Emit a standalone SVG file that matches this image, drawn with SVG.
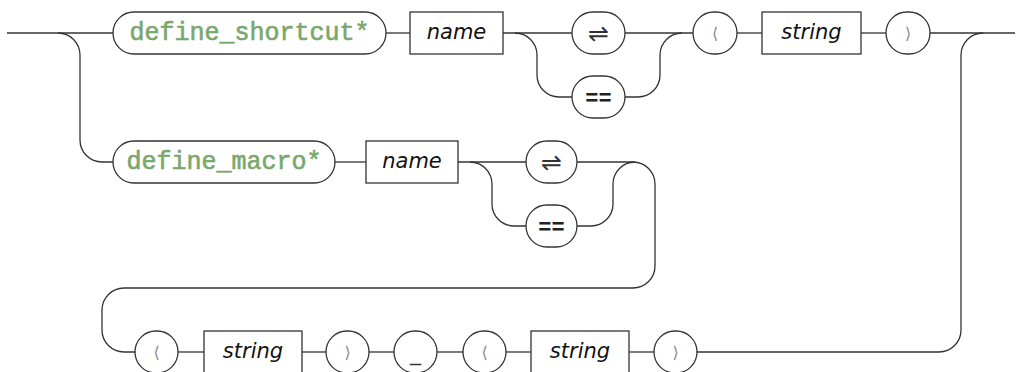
<svg xmlns="http://www.w3.org/2000/svg" width="1022" height="372" viewBox="0 0 1022 372">
  <style>
    .ln { fill: none; stroke: #333; stroke-width: 1.3; }
    .box { fill: #fff; stroke: #333; stroke-width: 1.3; }
    .kw { font-family: "Liberation Mono", monospace; font-size: 25px; fill: #79a86c; stroke: #79a86c; stroke-width: 0.6; text-anchor: middle; }
    .nt { font-family: "DejaVu Sans", sans-serif; font-style: italic; font-size: 21px; fill: #111; text-anchor: middle; }
    .sym { font-family: "DejaVu Sans", sans-serif; font-size: 25px; fill: #333; text-anchor: middle; }
    .eq { font-family: "Liberation Mono", monospace; font-weight: bold; font-size: 22px; fill: #222; text-anchor: middle; }
    .ang { font-family: "DejaVu Sans", sans-serif; font-size: 16px; fill: #888; text-anchor: middle; }
  </style>

  <!-- connectors -->
  <g id="connectors" class="ln">
    <!-- first alternative -->
    <path d="M7,33 H113"/>
    <path d="M386,33 H410"/>
    <path d="M503,33 H572"/>
    <path d="M515,33 a22,22 0 0 1 22,22 V75 a22,22 0 0 0 22,22 H572"/>
    <path d="M625,33 H693"/>
    <path d="M625,97 H638 a22,22 0 0 0 22,-22 V55 a22,22 0 0 1 22,-22"/>
    <path d="M737,33 H762"/>
    <path d="M861,33 H886"/>
    <path d="M930,33 H1015"/>
    <!-- branch to second alternative -->
    <path d="M58,33 a22,22 0 0 1 22,22 V140 a22,22 0 0 0 22,22 H113"/>
    <!-- second alternative -->
    <path d="M335,162 H366"/>
    <path d="M458,162 H526"/>
    <path d="M470,162 a22,22 0 0 1 22,22 V204 a22,22 0 0 0 22,22 H526"/>
    <path d="M577,226 H591 a22,22 0 0 0 22,-22 V184 a22,22 0 0 1 22,-22"/>
    <path d="M577,162 H633 a22,22 0 0 1 22,22 V266 a22,22 0 0 1 -22,22 H124 a22,22 0 0 0 -22,22 V330 a22,22 0 0 0 22,22 H135"/>
    <!-- continuation row -->
    <path d="M178,352 H204"/>
    <path d="M302,352 H326"/>
    <path d="M369,352 H394"/>
    <path d="M437,352 H463"/>
    <path d="M506,352 H531"/>
    <path d="M629,352 H654"/>
    <path d="M697,352 H939 a22,22 0 0 0 22,-22 V55 a22,22 0 0 1 22,-22"/>
  </g>

  <!-- first alternative -->
  <g id="kw-define-shortcut">
    <rect class="box" x="113" y="12" width="273" height="42" rx="21"/>
    <text class="kw" x="249.5" y="40">define_shortcut*</text>
  </g>
  <g id="name-1">
    <rect class="box" x="410" y="12" width="93" height="42"/>
    <text class="nt" x="456.5" y="39">name</text>
  </g>
  <g id="op-harpoons-1">
    <rect class="box" x="572" y="12" width="53" height="42" rx="21"/>
    <text class="sym" x="598.5" y="42">⇌</text>
  </g>
  <g id="op-eq-1">
    <rect class="box" x="572" y="76" width="53" height="42" rx="21"/>
    <text class="eq" x="598.5" y="105">==</text>
  </g>
  <g id="open-1">
    <rect class="box" x="693" y="12" width="44" height="42" rx="21"/>
    <text class="ang" x="715" y="39">⟨</text>
  </g>
  <g id="string-1">
    <rect class="box" x="762" y="12" width="99" height="42"/>
    <text class="nt" x="811.5" y="39">string</text>
  </g>
  <g id="close-1">
    <rect class="box" x="886" y="12" width="44" height="42" rx="21"/>
    <text class="ang" x="908" y="39">⟩</text>
  </g>

  <!-- second alternative -->
  <g id="kw-define-macro">
    <rect class="box" x="113" y="141" width="222" height="42" rx="21"/>
    <text class="kw" x="224" y="169">define_macro*</text>
  </g>
  <g id="name-2">
    <rect class="box" x="366" y="141" width="92" height="42"/>
    <text class="nt" x="412" y="168">name</text>
  </g>
  <g id="op-harpoons-2">
    <rect class="box" x="526" y="141" width="51" height="42" rx="21"/>
    <text class="sym" x="551.5" y="171">⇌</text>
  </g>
  <g id="op-eq-2">
    <rect class="box" x="526" y="205" width="51" height="42" rx="21"/>
    <text class="eq" x="551.5" y="234">==</text>
  </g>

  <!-- continuation row -->
  <g id="open-2">
    <rect class="box" x="135" y="331" width="43" height="42" rx="21"/>
    <text class="ang" x="156.5" y="358">⟨</text>
  </g>
  <g id="string-2">
    <rect class="box" x="204" y="331" width="98" height="42"/>
    <text class="nt" x="253" y="358">string</text>
  </g>
  <g id="close-2">
    <rect class="box" x="326" y="331" width="43" height="42" rx="21"/>
    <text class="ang" x="347.5" y="358">⟩</text>
  </g>
  <g id="underscore">
    <rect class="box" x="394" y="331" width="43" height="42" rx="21"/>
    <text class="sym" x="415.5" y="360" style="font-size:22px">_</text>
  </g>
  <g id="open-3">
    <rect class="box" x="463" y="331" width="43" height="42" rx="21"/>
    <text class="ang" x="484.5" y="358">⟨</text>
  </g>
  <g id="string-3">
    <rect class="box" x="531" y="331" width="98" height="42"/>
    <text class="nt" x="580" y="358">string</text>
  </g>
  <g id="close-3">
    <rect class="box" x="654" y="331" width="43" height="42" rx="21"/>
    <text class="ang" x="675.5" y="358">⟩</text>
  </g>
</svg>
